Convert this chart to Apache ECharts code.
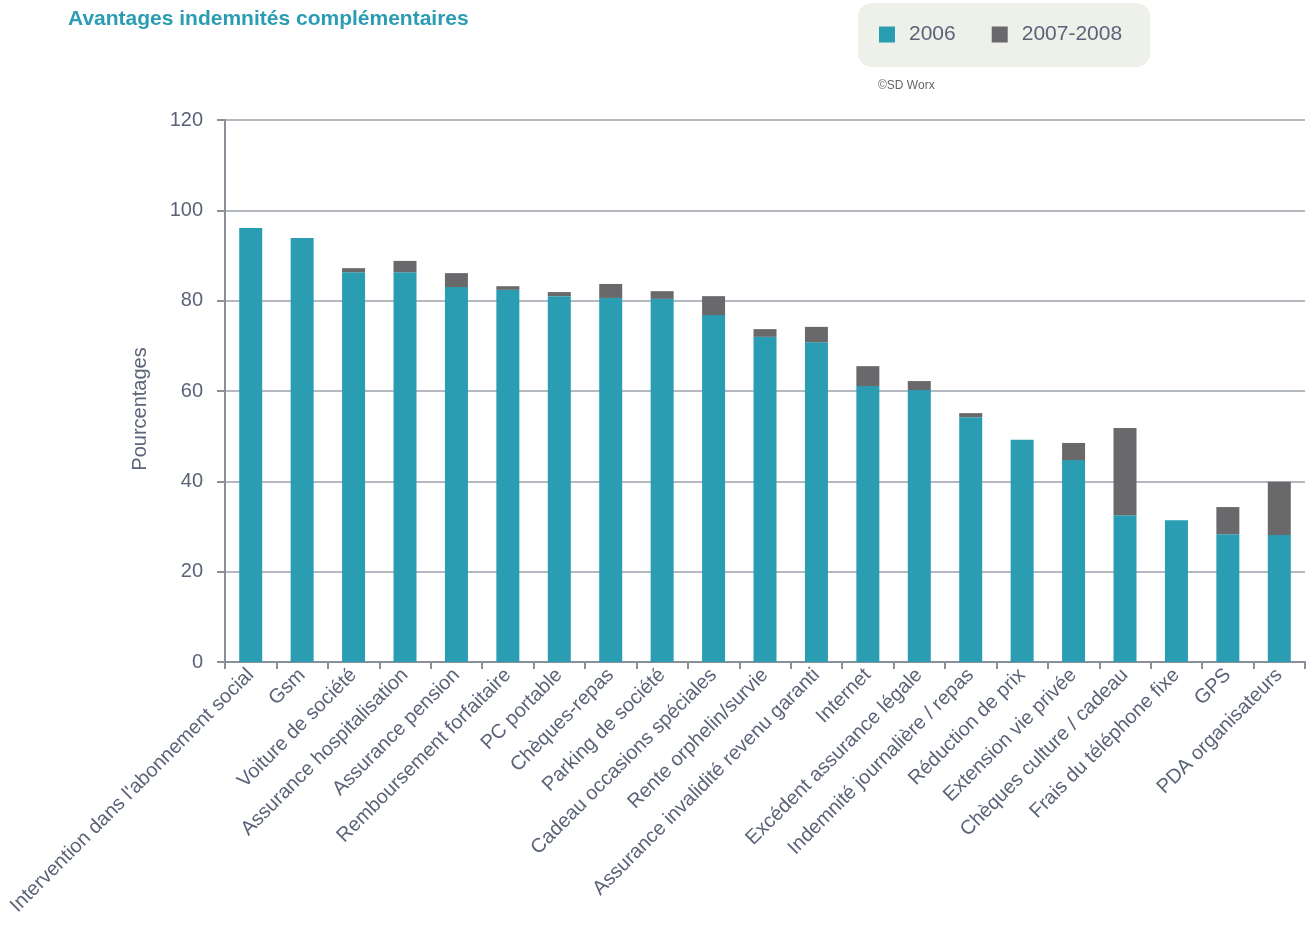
<!DOCTYPE html>
<html>
<head>
<meta charset="utf-8">
<script src="https://cdn.jsdelivr.net/npm/echarts@6/dist/echarts.min.js"></script>
<style>
  html, body { margin: 0; padding: 0; background: #fff; }
  #chart { width: 1307px; height: 931px; }
</style>
</head>
<body>
<div id="chart"></div>
<script>
const categories = [
  'Intervention dans l\'abonnement social', 'Gsm', 'Voiture de société',
  'Assurance hospitalisation', 'Assurance pension', 'Remboursement forfaitaire',
  'PC portable', 'Chèques-repas', 'Parking de société', 'Cadeau occasions spéciales',
  'Rente orphelin/survie', 'Assurance invalidité revenu garanti', 'Internet',
  'Excédent assurance légale', 'Indemnité journalière / repas', 'Réduction de prix',
  'Extension vie privée', 'Chèques culture / cadeau', 'Frais du téléphone fixe',
  'GPS', 'PDA organisateurs'
];
// part 2006 (teal) and extra added in 2007-2008 (grey), stacked
const values2006 = [96.1, 93.9, 86.3, 86.3, 83.0, 82.4, 81.0, 80.6, 80.4, 76.8, 72.0,
  70.8, 61.1, 60.2, 54.2, 49.2, 44.7, 32.5, 31.4, 28.3, 28.1];
const values2007 = [0, 0, 0.9, 2.5, 3.1, 0.8, 0.9, 3.1, 1.7, 4.2, 1.7,
  3.4, 4.4, 2.0, 0.9, 0, 3.8, 19.3, 0, 6.0, 11.8];
const yTicks = [0, 20, 40, 60, 80, 100, 120];

const txt = '#5b6378';
const font = 'Liberation Sans';

const myChart = echarts.init(document.getElementById('chart'));
const option = {
  animation: false,
  textStyle: { fontFamily: font },
  title: {
    text: 'Avantages indemnités complémentaires',
    left: 63, top: 4,
    textStyle: { color: '#2a9db2', fontSize: 21, fontWeight: 'bold', fontFamily: font }
  },
  legend: {
    data: ['2006', '2007-2008'],
    left: 858, top: 3,
    padding: [21, 28, 22, 21],
    itemGap: 36,
    itemWidth: 16, itemHeight: 16,
    backgroundColor: '#eef1e9',
    borderRadius: 14,
    icon: 'rect',
    textStyle: { color: txt, fontSize: 21, fontFamily: font, padding: [0, 0, 0, 9] }
  },
  graphic: [{
    type: 'text', left: 878, top: 80,
    style: { text: '©SD Worx', fill: '#666', font: '12px "Liberation Sans"' }
  }],
  grid: { left: 225, right: 2, top: 120, bottom: 269, containLabel: false },
  xAxis: {
    type: 'category',
    data: categories,
    axisLine: { lineStyle: { color: '#8a909a', width: 2 } },
    axisTick: { show: true, length: 7, lineStyle: { color: '#8a909a', width: 2 } },
    axisLabel: { rotate: 45, interval: 0, color: txt, fontSize: 20, margin: 10 }
  },
  yAxis: {
    type: 'value',
    min: 0, max: 120, interval: 20,
    name: 'Pourcentages',
    nameLocation: 'middle',
    nameGap: 75,
    nameTextStyle: { color: txt, fontSize: 20, fontFamily: font, padding: [0, 0, 0, -36] },
    axisLine: { show: true, lineStyle: { color: '#8a909a', width: 2 } },
    axisTick: { show: true, length: 8, lineStyle: { color: '#8a909a', width: 2 } },
    axisLabel: { color: txt, fontSize: 20, margin: 22,
      formatter: v => yTicks.includes(v) ? String(v) : '' },
    splitLine: { lineStyle: { color: '#b4b8c0', width: 2 } }
  },
  series: [
    {
      name: '2006', type: 'bar', stack: 'total', barWidth: 23,
      itemStyle: { color: '#2a9db2' },
      data: values2006
    },
    {
      name: '2007-2008', type: 'bar', stack: 'total', barWidth: 23,
      itemStyle: { color: '#69696b' },
      data: values2007
    }
  ]
};
myChart.setOption(option);
</script>
</body>
</html>
